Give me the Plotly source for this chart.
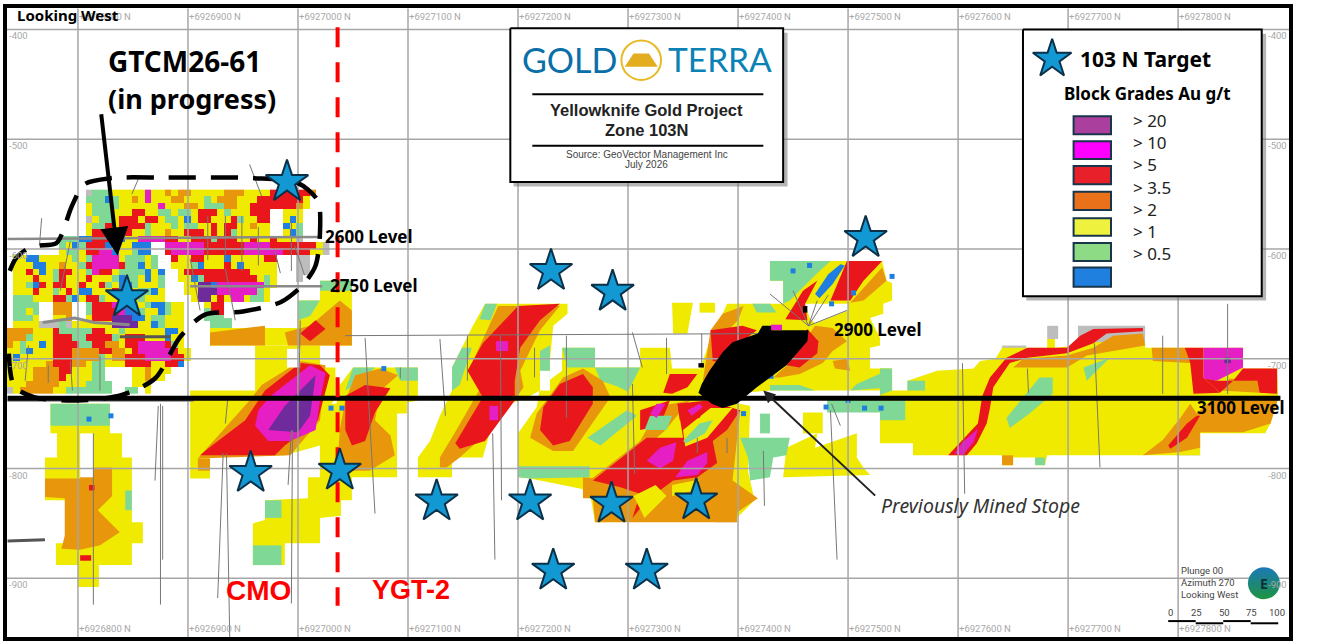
#!/usr/bin/env python
# coding: utf-8
import plotly.graph_objects as go

# all positions: northing minus 6926000, and depth below datum (metres)
BASE_N = 6926000
N_TICKS = [800, 900, 1000, 1100, 1200, 1300, 1400, 1500, 1600, 1700, 1800]
D_TICKS = [400, 500, 600, 700, 800, 900]

C_GREY = '#bdbdbd'
C_YELLOW = '#efea00'
C_GREEN = '#80d896'
C_ORANGE = '#e8960c'
C_RED = '#e9161c'
C_MAGENTA = '#e61fc4'
C_PURPLE = '#6f2a9c'
C_BLUE = '#1f7fe0'

# block model of the west workings, 6 m cells, first cell at n=738 d=549
# y > 1, g > 0.5, o > 2, r > 3.5, m > 10, p > 20, b low, a no grade
WEST_CELL = 6
WEST_N0 = 738
WEST_D0 = 549
WEST_ROWS = [
    "............agggyyyyymyyoyooyyyyyoooyyyyrrrrrro",
    "............gggbgyyoymyyyooyyygyoooyyyrrrrrrry",
    "............yggggyyyyyymyyyooygggooyyrrrrrrroy",
    "............ygggyyyrryyggyggyrrrygyyyrrr..yyy",
    "............ayggyrrryrryggybyrryyyrgyyrr..yby",
    "............yggryrrrrgyyygyggyyryrryyoyy..byg",
    "............yrrrryryygyyoyyrrryryrgyyyyy..ybg",
    "........gggbbrrrrbyymmmmrryyrrrgrrryyryyryyya",
    "........gybgrrrbgyybbb..mmmmmmrrrrrrmmmmrrrrrrrya",
    "........yggyrrmmbyygbb..rmmmmmrrrrrrmmmmmmrrrryya",
    ".yybbyyyyygygmmmmygggyg..ryyrryyybyyyyyrr...aa",
    ".yyybbyyoyygrmmmmrggbyg..yyygbyyyrybyyyyy...aa",
    ".yyrybygrryygmrryggggbyb..yrrrrrrrrrryyyy...aa",
    ".yyyryygryyyryyygbggybyg..yybgrrrrrrrrygy...a",
    ".yygbryrryyryyrgybbgyyyg...yyppbmmmmmmmgy",
    ".yyyryygyrybbyyyrbbyggby...yypppmmmmmmgy",
    ".gggyyyrrgbyrrgyyrbygyyy....yppyrymmyggy",
    ".gggg..ooo..grrrmbbgygbbgyy...yrr",
    ".ggyg..ooo..grrrrmbbgyybgyy...grr",
    ".gggy..yyo..yrrrpppbbyggyyy...ggg",
    ".yyyyaaagayyyyyyppppyybgyyy",
    "ooooyyyrgggggrryygyyyyyybby",
    "ooogyyyrrrggrrrrgyrrryyybyy",
    "oygyybyrrrrggrrooyrrmmmmrgy",
    "yygbyyyrrroooorrooyrmmmmmryy",
    "ybyyyyyrrroooogyoorrrmmmmrry",
    "yyyyyyorrrooyggyyyrrrryyrrb",
    "yyyyoooorryyygg....yyoyyy",
    "yyyyooooryyyygg....yyoyy",
    "yyyoooooyyyygggg...yyy",
    "ayoooooyyggggggg..gg.y",
]
WEST_CODES = ['y', 'g', 'o', 'r', 'm', 'p', 'b', 'a']
WEST_COLOURS = [C_YELLOW, C_GREEN, C_ORANGE, C_RED, C_MAGENTA, C_PURPLE, C_BLUE, C_GREY]

GREY_ZONES = [
    [(1681, 670), (1691, 670), (1691, 682), (1681, 682)],
    [(1709, 670), (1770, 670), (1770, 690), (1709, 690)],
    [(1640, 688), (1662, 688), (1662, 702), (1640, 702)],
    [(1798, 766), (1820, 766), (1820, 788), (1798, 788)],
    [(1850, 766), (1879, 768), (1886, 752), (1872, 752)],
    [(1388, 843), (1399, 838), (1399, 849), (1379, 849)],
]

YELLOW_ZONES = [
    [(775, 741), (829, 741), (829, 768), (840, 768), (840, 790), (849, 790), (849, 849), (859, 849), (859, 868), (849, 868), (849, 888), (819, 888), (819, 908), (800, 908), (800, 888), (780, 888), (780, 868), (790, 868), (790, 829), (770, 829), (770, 790), (781, 790), (781, 768), (775, 768)],
    [(920, 672), (1000, 672), (1000, 647), (1020, 647), (1020, 629), (1049, 629), (1049, 688), (920, 688)],
    [(961, 688), (1020, 688), (1020, 708), (1034, 708), (1034, 736), (1020, 756), (1020, 779), (988, 788), (920, 788), (920, 809), (902, 809), (902, 729), (961, 729)],
    [(1020, 741), (1035, 741), (1038, 724), (1050, 708), (1109, 708), (1109, 738), (1099, 740), (1099, 750), (1090, 750), (1090, 808), (1049, 808), (1049, 829), (1039, 829), (1039, 843), (1020, 845), (1020, 868), (988, 868), (988, 888), (959, 888), (959, 850), (970, 847), (970, 829), (1009, 827), (1009, 808), (1020, 808)],
    [(1109, 808), (1109, 790), (1120, 775), (1129, 752), (1140, 729), (1140, 708), (1149, 690), (1159, 670), (1170, 650), (1245, 650), (1245, 659), (1232, 670), (1229, 702), (1229, 724), (1211, 734), (1188, 743), (1175, 765), (1168, 790), (1140, 790), (1140, 808)],
    [(1200, 808), (1200, 768), (1217, 744), (1220, 726), (1240, 711), (1240, 690), (1270, 690), (1270, 708), (1311, 708), (1311, 690), (1338, 690), (1340, 709), (1365, 709), (1370, 734), (1411, 743), (1409, 802), (1415, 829), (1397, 847), (1270, 849), (1265, 820), (1211, 809)],
    [(1441, 808), (1444, 781), (1472, 768), (1470, 781), (1508, 768), (1508, 790), (1514, 799), (1520, 806)],
    [(1459, 749), (1477, 749), (1477, 768), (1459, 768)],
    [(1386, 659), (1390, 650), (1441, 650), (1441, 629), (1429, 629), (1429, 611), (1531, 611), (1535, 629), (1540, 631), (1540, 647), (1532, 650), (1532, 659), (1520, 663), (1529, 681), (1529, 688), (1520, 690), (1520, 709), (1538, 709), (1540, 729), (1429, 729), (1370, 734), (1365, 711), (1379, 670)],
    [(1340, 649), (1359, 649), (1354, 677), (1341, 677)],
    [(1365, 649), (1379, 649), (1379, 658), (1365, 658)],
    [(1529, 709), (1540, 709), (1540, 729), (1554, 729), (1554, 720), (1581, 711), (1614, 709), (1620, 702), (1634, 700), (1640, 690), (1681, 690), (1681, 682), (1688, 682), (1688, 690), (1709, 688), (1709, 685), (1770, 685), (1770, 690), (1859, 690), (1859, 709), (1890, 709), (1891, 736), (1884, 759), (1879, 768), (1820, 768), (1820, 788), (1681, 788), (1679, 797), (1670, 797), (1670, 790), (1650, 790), (1650, 797), (1640, 797), (1640, 788), (1559, 788), (1559, 777), (1529, 777)],
]

GREEN_ZONES = [
    [(775, 741), (829, 741), (829, 761), (775, 761)],
    [(843, 820), (849, 820), (849, 838), (843, 838)],
    [(920, 663), (940, 663), (940, 672), (920, 672)],
    [(1020, 629), (1049, 629), (1049, 638), (1020, 638)],
    [(1000, 647), (1020, 647), (1011, 661), (1000, 665)],
    [(959, 870), (985, 870), (985, 888), (959, 888)],
    [(970, 829), (985, 829), (985, 845), (970, 845)],
    [(1050, 708), (1070, 708), (1058, 720), (1043, 729)],
    [(1088, 708), (1109, 708), (1109, 720), (1093, 720)],
    [(1140, 708), (1149, 690), (1158, 690), (1147, 724), (1140, 729)],
    [(1170, 650), (1181, 650), (1175, 665), (1165, 664)],
    [(1220, 693), (1229, 688), (1229, 724), (1220, 724)],
    [(1240, 690), (1270, 690), (1270, 708), (1245, 708)],
    [(1200, 798), (1265, 798), (1265, 808), (1211, 809), (1200, 808)],
    [(1270, 708), (1311, 708), (1300, 730), (1290, 725), (1275, 720)],
    [(1263, 772), (1299, 747), (1308, 752), (1275, 779)],
    [(1402, 772), (1447, 772), (1444, 788), (1432, 790), (1429, 808), (1411, 811), (1409, 790)],
    [(1420, 750), (1429, 750), (1429, 768), (1420, 768)],
    [(1429, 611), (1484, 611), (1470, 624), (1456, 638), (1447, 647), (1441, 650), (1441, 629), (1429, 629)],
    [(1413, 650), (1429, 650), (1435, 658), (1417, 658)],
    [(1429, 724), (1456, 724), (1470, 729), (1429, 729)],
    [(1508, 723), (1535, 711), (1540, 726), (1502, 729)],
    [(1481, 736), (1529, 736), (1529, 749), (1481, 749)],
    [(1644, 754), (1659, 735), (1674, 717), (1686, 717), (1686, 732), (1665, 750), (1647, 763)],
    [(1714, 708), (1738, 699), (1729, 708), (1717, 720)],
    [(1529, 709), (1540, 709), (1540, 729), (1529, 733)],
    [(1529, 738), (1552, 738), (1552, 756), (1529, 756)],
    [(1554, 720), (1570, 720), (1570, 729), (1554, 729)],
    [(1670, 790), (1679, 790), (1679, 797), (1670, 797)],
]

ORANGE_ZONES = [
    [(770, 809), (802, 809), (802, 799), (831, 799), (831, 825), (818, 838), (838, 858), (820, 870), (802, 874), (785, 873), (788, 861), (788, 827), (770, 826)],
    [(909, 791), (915, 784), (956, 738), (967, 724), (1002, 702), (1025, 706), (1020, 756), (993, 788)],
    [(909, 802), (909, 791), (920, 791), (920, 802)],
    [(920, 688), (920, 676), (970, 670), (970, 688)],
    [(991, 688), (988, 676), (1011, 670), (1038, 647), (1049, 656), (1049, 688)],
    [(1038, 765), (1043, 738), (1052, 715), (1075, 709), (1091, 715), (1075, 729), (1070, 756), (1084, 770), (1088, 788), (1065, 802), (1043, 802), (1036, 797)],
    [(1129, 790), (1144, 765), (1168, 723), (1159, 702), (1177, 663), (1182, 652), (1238, 652), (1220, 674), (1202, 711), (1205, 726), (1190, 747), (1175, 765), (1147, 790), (1135, 799), (1129, 799)],
    [(1211, 772), (1217, 750), (1241, 717), (1259, 709), (1277, 720), (1284, 735), (1250, 784), (1232, 784)],
    [(1265, 811), (1311, 775), (1329, 743), (1356, 738), (1334, 765), (1293, 802), (1275, 820)],
    [(1259, 808), (1259, 827), (1268, 827), (1270, 849), (1399, 849), (1399, 840), (1418, 827), (1395, 811), (1402, 747), (1375, 747), (1347, 775), (1293, 811)],
    [(1375, 674), (1386, 659), (1405, 652), (1400, 665), (1385, 680), (1390, 700), (1380, 720), (1368, 720)],
    [(1531, 617), (1535, 629), (1514, 647), (1502, 649), (1520, 629)],
    [(1470, 670), (1486, 672), (1499, 684), (1486, 693), (1477, 704), (1456, 714), (1438, 717), (1432, 717), (1447, 704)],
    [(1486, 702), (1499, 700), (1502, 711), (1488, 709)],
    [(1650, 708), (1659, 700), (1699, 697), (1723, 690), (1741, 679), (1768, 677), (1770, 688), (1717, 697), (1699, 708)],
    [(1776, 690), (1806, 690), (1811, 704), (1777, 702)],
    [(1838, 729), (1847, 718), (1872, 720), (1874, 731)],
    [(1817, 750), (1832, 736), (1891, 736), (1884, 759), (1859, 767), (1820, 767), (1820, 781), (1802, 785), (1768, 788), (1786, 774), (1802, 754), (1811, 741)],
    [(1640, 788), (1650, 788), (1650, 797), (1640, 797)],
]

RED_ZONES = [
    [(802, 879), (812, 879), (812, 884), (802, 884)],
    [(810, 815), (815, 815), (815, 820), (810, 820)],
    [(911, 788), (918, 782), (952, 756), (970, 729), (1002, 704), (1020, 706), (1029, 715), (1018, 756), (988, 779), (979, 788)],
    [(1002, 677), (1016, 665), (1025, 673), (1011, 684)],
    [(1043, 765), (1043, 734), (1061, 724), (1084, 727), (1070, 749), (1061, 775), (1049, 779)],
    [(1143, 777), (1168, 735), (1154, 711), (1168, 686), (1200, 652), (1238, 650), (1220, 665), (1202, 690), (1197, 720), (1197, 738), (1170, 775), (1147, 782)],
    [(1220, 765), (1223, 744), (1238, 723), (1259, 714), (1268, 726), (1268, 741), (1247, 775), (1232, 779)],
    [(1268, 811), (1294, 790), (1317, 772), (1350, 772), (1345, 741), (1372, 738), (1402, 747), (1390, 765), (1377, 775), (1381, 795), (1363, 808), (1341, 811), (1317, 829), (1304, 845), (1311, 823), (1293, 817)],
    [(1332, 731), (1338, 714), (1363, 714), (1354, 726), (1340, 732)],
    [(1311, 747), (1338, 738), (1329, 761), (1311, 765)],
    [(1484, 647), (1499, 611), (1531, 611), (1514, 629), (1502, 647)],
    [(1443, 664), (1459, 638), (1472, 629), (1461, 650), (1463, 665)],
    [(1375, 674), (1404, 670), (1417, 674), (1402, 686), (1390, 704), (1377, 702)],
    [(1463, 673), (1473, 684), (1472, 695), (1456, 708), (1444, 706)],
    [(1591, 788), (1602, 776), (1618, 759), (1622, 734), (1629, 717), (1644, 699), (1663, 690), (1699, 690), (1711, 679), (1723, 673), (1768, 672), (1768, 675), (1735, 677), (1723, 686), (1699, 695), (1663, 699), (1647, 704), (1632, 726), (1629, 745), (1626, 759), (1617, 777), (1608, 788)],
    [(1806, 690), (1823, 690), (1823, 717), (1838, 731), (1814, 732), (1811, 704)],
    [(1859, 709), (1890, 709), (1890, 732), (1874, 731), (1872, 720), (1850, 720)],
    [(1835, 720), (1850, 720), (1838, 731), (1823, 717)],
    [(1791, 779), (1808, 759), (1817, 752), (1820, 752), (1808, 772), (1793, 782)],
]

# islands that sit inside the red shells
YELLOW_PATCHES = [
    [(1305, 825), (1325, 815), (1335, 825), (1315, 845)],
    [(1340, 815), (1365, 810), (1360, 820), (1340, 825)],
    [(1350, 765), (1375, 745), (1395, 745), (1372, 772), (1352, 780)],
]
GREEN_PATCHES = [
    [(1350, 775), (1365, 759), (1377, 756), (1370, 768), (1353, 777)],
    [(1320, 752), (1340, 752), (1335, 765), (1315, 765)],
]
RED_PATCHES = [
    [(1345, 741), (1372, 740), (1365, 754), (1347, 756)],
]
BLUE_ZONES = [
    [(1482, 623), (1493, 614), (1497, 615), (1486, 632), (1474, 645), (1470, 641)],
]
MAGENTA_ZONES = [
    [(961, 761), (964, 747), (975, 734), (1011, 706), (1025, 713), (1020, 738), (1016, 765), (993, 775), (973, 775)],
    [(1180, 684), (1191, 684), (1191, 693), (1180, 693)],
    [(1174, 743), (1182, 743), (1182, 756), (1174, 756)],
    [(1317, 793), (1329, 781), (1344, 776), (1341, 793), (1329, 800)],
    [(1343, 808), (1354, 793), (1372, 785), (1372, 795), (1363, 806)],
    [(1320, 750), (1326, 741), (1334, 741), (1326, 754)],
    [(1354, 747), (1365, 741), (1368, 744), (1358, 752)],
    [(1597, 786), (1604, 776), (1618, 764), (1614, 776), (1604, 788)],
    [(1823, 690), (1859, 690), (1859, 708), (1835, 720), (1823, 718)],
]
PURPLE_ZONES = [
    [(973, 765), (988, 743), (1016, 715), (1011, 752), (1000, 767)],
    [(1842, 699), (1848, 699), (1848, 704), (1842, 704)],
]
WHITE_HOLES = [
    [(802, 768), (814, 768), (814, 808), (802, 808)],
    [(990, 691), (1002, 691), (1002, 708), (990, 708)],
    [(1220, 711), (1229, 711), (1229, 729), (1220, 729)],
    [(1461, 650), (1500, 650), (1500, 656), (1470, 668), (1465, 663)],
]
STOPE = [(1364, 731), (1367, 723), (1374, 711), (1386, 694), (1395, 685), (1418, 677), (1422, 670), (1431, 670), (1431, 674), (1464, 674), (1463, 684), (1444, 706), (1417, 726), (1399, 741), (1386, 745), (1376, 741)]
STOPE_BITS = [
    [(1459, 652), (1463, 652), (1463, 658), (1459, 658)],
    [(1364, 704), (1369, 704), (1369, 708), (1364, 708)],
]
STOPE_MAGENTA = [(1430, 669), (1440, 669), (1440, 674), (1430, 674)]

BLUE_BLOCKS = [(810, 755), (830, 752), (1078, 709), (1430, 716), (1405, 750), (1500, 738), (1515, 745), (1530, 745), (1480, 744), (1540, 625), (1030, 745), (1040, 745), (1450, 620), (1465, 615), (1505, 640), (1485, 650)]

# drill traces as (n1, d1, n2, d2)
DRILL_TRACES = [
    (814, 768, 814, 924), (875, 741, 875, 924), (877, 743, 877, 883), (873, 743, 870, 811),
    (932, 786, 927, 918), (935, 786, 938, 956), (936, 738, 934, 759), (1002, 665, 1000, 773),
    (995, 765, 994, 923), (994, 765, 991, 815), (1061, 681, 1070, 841), (1093, 708, 1093, 718),
    (1129, 682, 1134, 752), (1154, 679, 1154, 720), (1184, 679, 1185, 829), (1177, 768, 1179, 883),
    (1215, 690, 1215, 717), (1244, 679, 1244, 754), (1304, 676, 1313, 708), (1304, 723, 1306, 805),
    (1335, 681, 1335, 714), (1367, 677, 1367, 708), (1390, 772, 1390, 786), (1363, 772, 1363, 786),
    (1423, 784, 1424, 834), (1484, 747, 1490, 883), (1485, 741, 1493, 761), (1604, 704, 1606, 823),
    (1724, 686, 1729, 799), (1786, 679, 1786, 732), (1845, 650, 1845, 732), (1663, 709, 1664, 731),
    (767, 572, 765, 597), (855, 536, 849, 550), (956, 523, 967, 552), (918, 570, 918, 610),
    (934, 570, 934, 610), (949, 570, 949, 620), (964, 580, 964, 615), (994, 575, 994, 620),
    (902, 609, 911, 656), (934, 618, 943, 665), (979, 602, 984, 622), (997, 597, 1006, 624),
    (793, 593, 784, 638), (755, 688, 752, 720), (773, 706, 773, 722), (820, 697, 820, 729),
    (793, 702, 795, 729), (1464, 670, 1429, 641), (1464, 670, 1450, 638), (1464, 670, 1472, 647),
    (1464, 670, 1482, 642), (1464, 670, 1499, 656), (1043, 679, 1447, 677),
]
# level drives as (n1, d1, n2, d2)
LEVEL_DRIVES = [(736, 591, 1022, 589), (902, 634, 1022, 634), (736, 738, 905, 738)]
DARK_DRIVE_N = [768, 797, 815, 847]
DARK_DRIVE_D = [667, 663, 667, 669]
THICK_DRIVE = (838, 680, 884, 680)
STRAY_N = [736, 770]
STRAY_D = [866, 865]
LEVEL_3100 = (736, 736, 1893, 736)
BOUNDARY_N = [1036, 1036]
BOUNDARY_D = [398, 925]
OUTLINE_N = [738, 744, 758, 780, 786, 794, 806, 830, 880, 960, 1000, 1018, 1020, 1016, 1005, 985, 950, 915, 893, 870, 840, 800, 760, 742, 737]
OUTLINE_D = [620, 608, 598, 595, 585, 562, 541, 535.5, 535, 535.5, 540, 556, 585, 615, 632, 648, 657, 660, 680, 718, 733, 738, 735, 725, 690]

TARGET_N = [990, 844.5, 1516, 1230, 1286, 957, 1038, 1126, 1211, 1285, 1362, 1232, 1317]
TARGET_D = [539, 644, 590, 620, 639, 804, 802, 830, 830, 832, 829, 893, 893]

LEVEL_LABELS = ['2600 Level', '2750 Level', '2900 Level', '3100 Level']
LEVEL_LABEL_N = [1025, 1029, 1487, 1817]
LEVEL_LABEL_D = [589, 633, 673, 744]

GRADE_LABELS = ['> 20', '> 10', '> 5', '> 3.5', '> 2', '> 1', '> 0.5']
GRADE_COLOURS = ['#aa3f9d', '#ff00ff', '#e8202a', '#e8711a', '#eef23f', '#8ddc85', '#2080e0']

TITLE_BOX = [(1193, 399), (1441, 399), (1441, 539), (1193, 539)]
TITLE_SHADOW = [(1196, 403), (1445, 403), (1445, 543), (1196, 543)]
KEY_BOX = [(1659, 400), (1876, 400), (1876, 643), (1659, 643)]
KEY_SHADOW = [(1662, 404), (1880, 404), (1880, 647), (1662, 647)]


def x(n):
    return BASE_N + n


def ring(pts):
    pts = list(pts) + [pts[0]]
    return [x(p[0]) for p in pts], [-p[1] for p in pts]


fig = go.Figure()

# west workings as a cell grid
west_z = []
for row in WEST_ROWS:
    west_z.append([WEST_CODES.index(c) if c in WEST_CODES else None for c in row.ljust(48, '.')])
n_codes = len(WEST_CODES)
scale = []
for i, c in enumerate(WEST_COLOURS):
    scale += [[i / n_codes, c], [(i + 1) / n_codes, c]]
fig.add_trace(go.Heatmap(z=west_z,
                         x=[x(WEST_N0 + WEST_CELL * i) for i in range(48)],
                         y=[-(WEST_D0 + WEST_CELL * j) for j in range(len(WEST_ROWS))],
                         zmin=-0.5, zmax=n_codes - 0.5, colorscale=scale, showscale=False,
                         hoverinfo='skip', xgap=0, ygap=0))


def add_zones(zones, colour):
    for z in zones:
        xs, ys = ring(z)
        fig.add_trace(go.Scatter(x=xs, y=ys, mode='lines', fill='toself', fillcolor=colour,
                                 line=dict(width=0, color=colour), hoverinfo='skip'))


def add_segments(segs, colour, width):
    xs, ys = [], []
    for s in segs:
        xs += [x(s[0]), x(s[2]), None]
        ys += [-s[1], -s[3], None]
    fig.add_trace(go.Scatter(x=xs, y=ys, mode='lines', line=dict(color=colour, width=width), hoverinfo='skip'))


for zones, colour in [(GREY_ZONES, C_GREY), (YELLOW_ZONES, C_YELLOW), (GREEN_ZONES, C_GREEN),
                      (ORANGE_ZONES, C_ORANGE), (RED_ZONES, C_RED), (YELLOW_PATCHES, C_YELLOW),
                      (GREEN_PATCHES, C_GREEN), (RED_PATCHES, C_RED), (BLUE_ZONES, C_BLUE),
                      (MAGENTA_ZONES, C_MAGENTA), (PURPLE_ZONES, C_PURPLE), (WHITE_HOLES, 'white')]:
    add_zones(zones, colour)

fig.add_trace(go.Scatter(x=[x(b[0]) for b in BLUE_BLOCKS], y=[-b[1] for b in BLUE_BLOCKS], mode='markers',
                         marker=dict(symbol='square', size=5, color=C_BLUE, line=dict(width=0)),
                         hoverinfo='skip'))

# grid goes over the blocks
grid = [(n, 381, n, 953.5) for n in N_TICKS] + [(735.5, d, 1900.8, d) for d in D_TICKS]
add_segments(grid, '#a6a6a6', 1.5)
add_segments(DRILL_TRACES, '#777777', 1)
add_segments(LEVEL_DRIVES, '#8a8a8a', 2.5)
fig.add_trace(go.Scatter(x=[x(n) for n in DARK_DRIVE_N], y=[-d for d in DARK_DRIVE_D], mode='lines',
                         line=dict(color='#8a8a8a', width=3), hoverinfo='skip'))
add_segments([THICK_DRIVE], '#555555', 3)
fig.add_trace(go.Scatter(x=[x(n) for n in STRAY_N], y=[-d for d in STRAY_D], mode='lines',
                         line=dict(color='#555555', width=3), hoverinfo='skip'))

add_zones([STOPE] + STOPE_BITS, 'black')
add_zones([STOPE_MAGENTA], C_MAGENTA)
add_segments([LEVEL_3100], 'black', 5)

fig.add_trace(go.Scatter(x=[x(n) for n in BOUNDARY_N], y=[-d for d in BOUNDARY_D], mode='lines',
                         line=dict(color='#ff0000', width=4, dash='20px,15px'), hoverinfo='skip'))
fig.add_trace(go.Scatter(x=[x(n) for n in OUTLINE_N], y=[-d for d in OUTLINE_D], mode='lines',
                         line=dict(color='black', width=4.5, dash='27px,15px', shape='spline', smoothing=0.8),
                         hoverinfo='skip'))

star = dict(symbol='star', size=32, color='#1299d3', line=dict(color='#0c3048', width=2))
fig.add_trace(go.Scatter(x=[x(n) for n in TARGET_N], y=[-d for d in TARGET_D], mode='markers', marker=star,
                         hoverinfo='skip'))

# panels sit over the grid, the key star over its panel
add_zones([TITLE_SHADOW, KEY_SHADOW], 'rgba(120,120,120,0.55)')
for box in [TITLE_BOX, KEY_BOX]:
    xs, ys = ring(box)
    fig.add_trace(go.Scatter(x=xs, y=ys, mode='lines', fill='toself', fillcolor='white',
                             line=dict(color='black', width=2), hoverinfo='skip'))
fig.add_trace(go.Scatter(x=[x(1685.5)], y=[-427], mode='markers', hoverinfo='skip',
                         marker=dict(star, size=29)))

# compass
fig.add_trace(go.Scatter(x=[x(1878)], y=[-904.5], mode='markers', hoverinfo='skip',
                         marker=dict(symbol='circle', size=32, color='#1b78b8',
                                     gradient=dict(type='vertical', color='#1f9440'), line=dict(width=0))))

shapes = []
for y0, y1 in [(-459, -459), (-506, -506)]:
    shapes.append(dict(type='line', x0=x(1213), x1=x(1423), y0=y0, y1=y1, line=dict(color='black', width=2)))
shapes.append(dict(type='circle', x0=x(1294), x1=x(1330), y0=-410, y1=-446, line=dict(color='#e8b923', width=2)))
shapes.append(dict(type='path', path='M %d,-434 L %d,-434 L %d,-422 L %d,-422 Z' % (x(1297), x(1327), x(1319), x(1305)),
                   fillcolor='#e2ad1e', line=dict(width=0)))
swatch_d = [(479, 495.5), (502, 518), (524.5, 541), (548, 564.5), (572, 588), (594.5, 611), (617, 634.5)]
for (d0, d1), c in zip(swatch_d, GRADE_COLOURS):
    shapes.append(dict(type='rect', x0=x(1705), x1=x(1739), y0=-d0, y1=-d1, fillcolor=c, line=dict(color='#18354a', width=2)))
for n0, n1, d in [(1791, 1816, 939), (1816, 1841, 941), (1841, 1866, 939), (1866, 1891, 941)]:
    shapes.append(dict(type='line', x0=x(n0), x1=x(n1), y0=-d, y1=-d, line=dict(color='black', width=2)))

anns = []


def note(n, d, text, size=12, color='black', bold=False, italic=False, anchor='left', family='Open Sans'):
    if bold:
        text = '<b>%s</b>' % text
    if italic:
        text = '<i>%s</i>' % text
    anns.append(dict(x=x(n), y=-d, text=text, showarrow=False, xanchor=anchor, yanchor='middle',
                     font=dict(size=size, color=color, family=family), borderpad=0, borderwidth=0))


for n in N_TICKS:
    note(n + 1, 388, '+%d N' % (BASE_N + n), size=9.5, color='#a8a8a8', family='Roboto')
    note(n + 1, 945.5, '+%d N' % (BASE_N + n), size=9.5, color='#a8a8a8', family='Roboto')
for d in D_TICKS:
    note(737, d + 6, '-%d' % d, size=9.5, color='#a8a8a8', family='Roboto')
    note(1899, d + 6, '-%d' % d, size=9.5, color='#a8a8a8', family='Roboto', anchor='right')

note(745, 387, 'Looking West', size=15, bold=True, family='Noto Sans')
note(827, 429, 'GTCM26-61', size=28, bold=True, family='Noto Sans')
note(827, 463, '(in progress)', size=27, bold=True, family='Noto Sans')
note(964, 911, 'CMO', size=28, color='#ff0000', bold=True, anchor='center', family='Liberation Sans')
note(1103, 911, 'YGT-2', size=27, color='#ff0000', bold=True, anchor='center', family='Liberation Sans')
for t, n, d in zip(LEVEL_LABELS, LEVEL_LABEL_N, LEVEL_LABEL_D):
    note(n, d, t, size=17, bold=True, family='Noto Sans')
note(1530, 834, 'Previously Mined Stope', size=19.5, color='#333333', italic=True, family='Noto Sans')
note(1204, 427, 'GOLD', size=34, color='#0a6fa8', anchor='left', family='Lato')
note(1336, 427, 'TERRA', size=33.5, color='#0a82b5', anchor='left', family='Lato')
note(1317, 473, 'Yellowknife Gold Project', size=16.5, bold=True, anchor='center', color='#222222', family='Liberation Sans')
note(1317, 492, 'Zone 103N', size=16.5, bold=True, anchor='center', color='#222222', family='Liberation Sans')
note(1317, 514, 'Source: GeoVector Management Inc', size=10, anchor='center', color='#444444', family='Liberation Sans')
note(1317, 523, 'July 2026', size=10, anchor='center', color='#444444', family='Liberation Sans')
note(1711, 427, '103 N Target', size=21, bold=True, family='Noto Sans')
note(1696, 458, 'Block Grades Au g/t', size=17, bold=True, family='Noto Sans')
for t, d in zip(GRADE_LABELS, [483, 503, 523, 544, 564, 584, 604]):
    note(1759, d, t, size=17, color='#222222', family='Noto Sans')
note(1803, 893, 'Plunge 00', size=9.5, color='#444444', family='Roboto')
note(1803, 904, 'Azimuth 270', size=9.5, color='#444444', family='Roboto')
note(1803, 915, 'Looking West', size=9.5, color='#444444', family='Roboto')
for t, n in zip(['0', '25', '50', '75', '100'], [1793, 1817, 1842, 1867, 1890]):
    note(n, 931, t, size=9.5, color='#444444', family='Roboto', anchor='center')
note(1878, 904.5, 'E', size=14, bold=True, anchor='center', color='#10303a', family='Noto Sans')

# arrows
anns.append(dict(x=x(836), y=-606, ax=x(821), ay=-476, xref='x', yref='y', axref='x', ayref='y', text='',
                 showarrow=True, arrowhead=2, arrowsize=1.4, arrowwidth=4, arrowcolor='black'))
anns.append(dict(x=x(1423), y=-729, ax=x(1526), ay=-826, xref='x', yref='y', axref='x', ayref='y', text='',
                 showarrow=True, arrowhead=2, arrowsize=1.2, arrowwidth=2, arrowcolor='#222222'))

fig.update_layout(
    width=1320, height=644, autosize=False, showlegend=False,
    margin=dict(l=7, r=31, t=4, b=7, pad=0),
    paper_bgcolor='white', plot_bgcolor='white',
    shapes=shapes, annotations=anns,
)
fig.update_xaxes(range=[x(735.5), x(1900.8)], showgrid=False, zeroline=False, showticklabels=False, ticks='',
                 showline=True, mirror=True, linecolor='black', linewidth=4)
fig.update_yaxes(range=[-953.5, -380.5], showgrid=False, zeroline=False, showticklabels=False, ticks='',
                 showline=True, mirror=True, linecolor='black', linewidth=4)

fig.write_html("out.html", config=dict(displayModeBar=False),
               post_script="document.body.style.margin='0';document.documentElement.style.overflow='hidden';")
